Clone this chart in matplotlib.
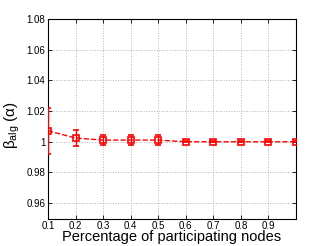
import matplotlib
matplotlib.use("Agg")
import matplotlib.pyplot as plt

frac = [0.1, 0.2, 0.3, 0.4, 0.5, 0.6, 0.7, 0.8, 0.9, 1.0]
beta = [1.0072, 1.0024, 1.0011, 1.0011, 1.0011, 1.0, 1.0, 1.0, 1.0, 1.0]
err = [0.015, 0.0052, 0.0035, 0.0032, 0.0032, 0.0004, 0.0004, 0.0004, 0.0004, 0.0004]

xticks = [0.1, 0.2, 0.3, 0.4, 0.5, 0.6, 0.7, 0.8, 0.9]
xticklabels = ["0.1", "0.2", "0.3", "0.4", "0.5", "0.6", "0.7", "0.8", "0.9"]
yticks = [0.96, 0.98, 1.0, 1.02, 1.04, 1.06, 1.08]
yticklabels = ["0.96", "0.98", "1", "1.02", "1.04", "1.06", "1.08"]

plt.rcParams["font.family"] = ["Liberation Sans", "DejaVu Sans"]
plt.rcParams["mathtext.fontset"] = "custom"
plt.rcParams["mathtext.rm"] = "Liberation Sans"

fig = plt.figure(figsize=(3.27, 2.46), dpi=100)
ax = fig.add_axes([48 / 327, 1 - 218.5 / 246, 248 / 327, 199.5 / 246])

ax.errorbar(frac, beta, yerr=err, color="red", linestyle="--", linewidth=1.0,
            marker="s", markersize=4, markerfacecolor="none", markeredgewidth=1.2,
            elinewidth=1.0, capsize=2.5, capthick=1.0, zorder=3)

ax.set_xlim(0.1, 1.0)
ax.set_ylim(0.95, 1.08)
ax.set_xticks(xticks)
ax.set_xticklabels(xticklabels)
ax.set_yticks(yticks)
ax.set_yticklabels(yticklabels)
ax.tick_params(labelsize=7, direction="in", length=3, width=0.6, top=True, right=True,
               labeltop=False, labelright=False, pad=2)
ax.grid(True, linestyle=":", color="#b4b4b4", linewidth=0.7)
for s in ax.spines.values():
    s.set_linewidth(0.8)

ax.set_xlabel("Percentage of participating nodes", fontsize=10.5, labelpad=-1)
ax.set_ylabel(r"β$_{\mathrm{alg}}$ (α)", fontsize=11)
ax.yaxis.set_label_coords(-0.105, 0.47)

fig.savefig("out.png", dpi=100)
